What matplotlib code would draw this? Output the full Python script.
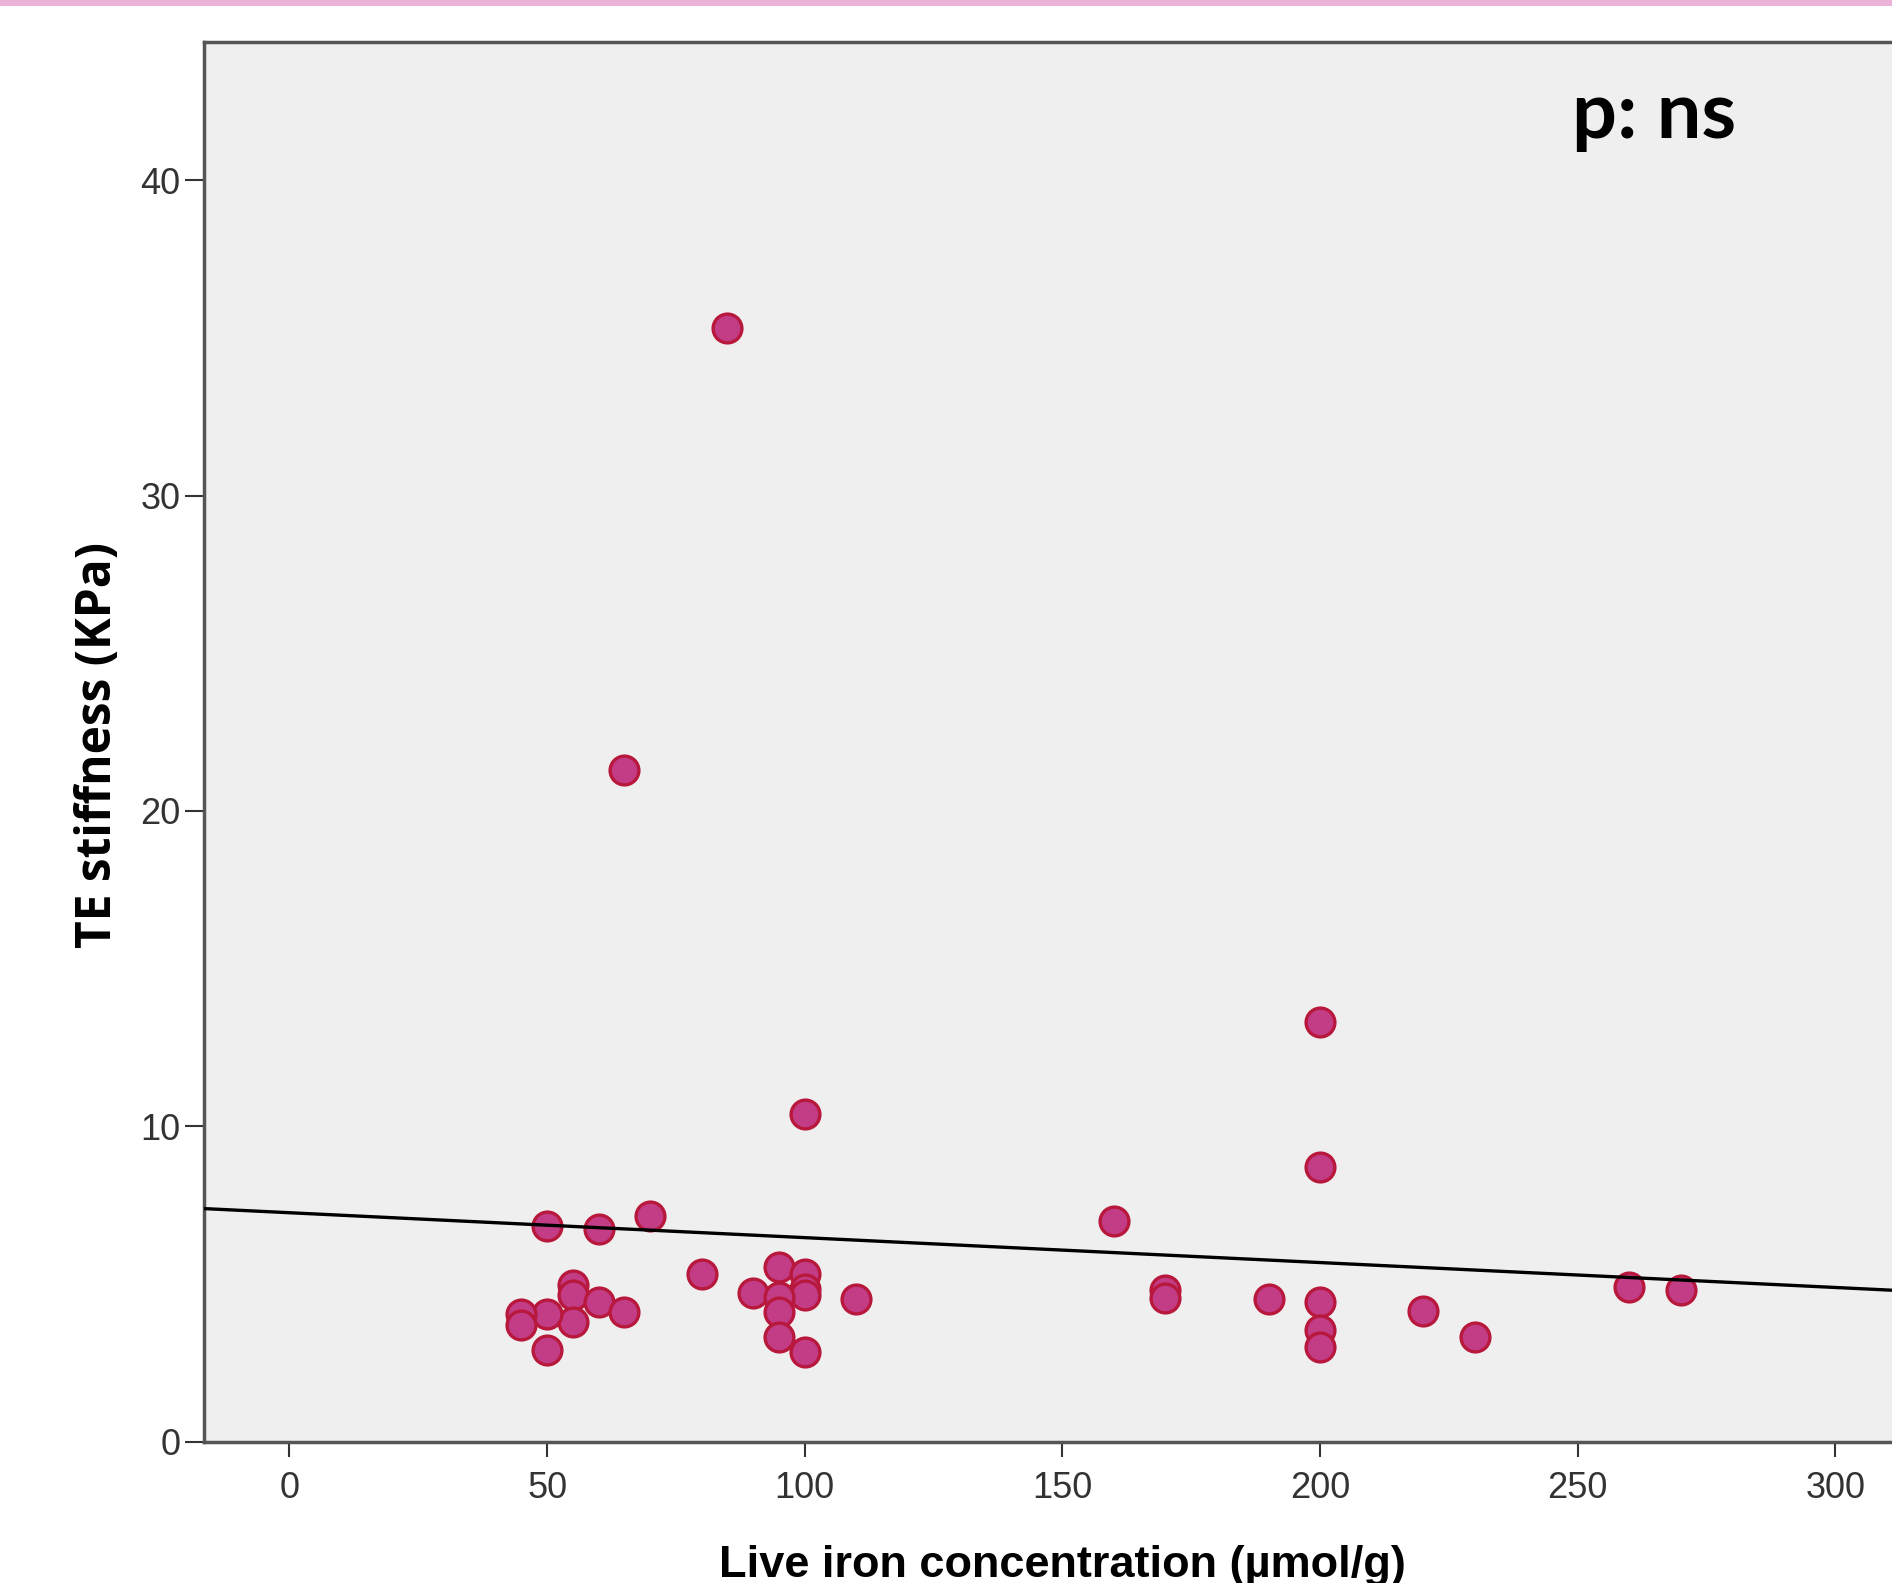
import matplotlib.pyplot as plt
from matplotlib.patches import Rectangle
import numpy as np

# liver iron (umol/g) vs TE stiffness (KPa)
iron = [85, 65, 200, 100, 200, 70, 50, 60, 160, 80,
        95, 100, 100, 100, 90, 95, 95, 95, 100, 110,
        55, 55, 60, 65, 55, 50, 45, 45, 50,
        170, 170, 190, 200, 200, 200, 220, 230, 260, 270]

stiffness = [35.3, 21.3, 13.3, 10.4, 8.7, 7.15, 6.85, 6.75, 7.0, 5.33,
             5.54, 5.33, 4.85, 4.64, 4.73, 4.6, 4.11, 3.32, 2.85, 4.54,
             4.96, 4.64, 4.43, 4.11, 3.8, 4.06, 4.06, 3.69, 2.9,
             4.8, 4.55, 4.54, 4.43, 3.53, 3.0, 4.13, 3.32, 4.91, 4.82]

# fit line
fit_intercept = 7.26
fit_slope = -0.0079

x_ticks = [0, 50, 100, 150, 200, 250, 300]
y_ticks = [0, 10, 20, 30, 40]

x_range = (-16.6, 311.0)
y_range = (0, 44.38)

tick_font = ["Liberation Sans Narrow", "DejaVu Sans Condensed",
             "Liberation Sans", "DejaVu Sans"]

##########################################################

fig = plt.figure(figsize=(18.92, 15.83), dpi=100)

# pink strip along the top edge
fig.add_artist(
    Rectangle(
        (0, 1 - 6 / 1583), 1, 6 / 1583,
        transform=fig.transFigure,
        color="#ebb2da",
        lw=0
    )
)

ax = fig.add_axes([0.1078, 0.08926, 0.8922, 0.88421])

ax.set_facecolor("#efefef")

ax.scatter(
    iron,
    stiffness,
    s=430,
    c="#c23c86",
    edgecolors="#b8183c",
    linewidths=2.4,
    zorder=3
)

line_x = np.array(x_range)

ax.plot(
    line_x,
    fit_intercept + fit_slope * line_x,
    color="black",
    lw=2.4,
    zorder=4
)

ax.set_xlim(*x_range)
ax.set_ylim(*y_range)

ax.set_xticks(x_ticks)
ax.set_yticks(y_ticks)

ax.spines["right"].set_visible(False)

for side in ["left", "top", "bottom"]:
    ax.spines[side].set_color("#555555")
    ax.spines[side].set_linewidth(2.5)

ax.tick_params(axis="x", length=11, width=1.5, pad=10, colors="#333333")
ax.tick_params(axis="y", length=14, width=1.5, pad=3, colors="#333333")

for lab in ax.get_xticklabels() + ax.get_yticklabels():
    lab.set_family(tick_font)
    lab.set_fontsize(26)

fig.text(
    0.5618, 0.0038,
    "Live iron concentration (µmol/g)",
    ha="center",
    va="baseline",
    fontsize=32.5,
    fontweight="bold",
    family=["Liberation Sans", "DejaVu Sans"]
)

fig.text(
    0.052, 0.5294,
    "TE stiffness (KPa)",
    rotation=90,
    ha="center",
    va="center",
    fontsize=34.5,
    fontweight="bold",
    family=["Open Sans", "DejaVu Sans"]
)

fig.text(
    0.8307, 0.9126,
    "p: ns",
    ha="left",
    va="baseline",
    fontsize=57,
    fontweight="bold",
    family=["Lato", "DejaVu Sans"]
)

fig.savefig("out.png", dpi=100)
plt.close()
